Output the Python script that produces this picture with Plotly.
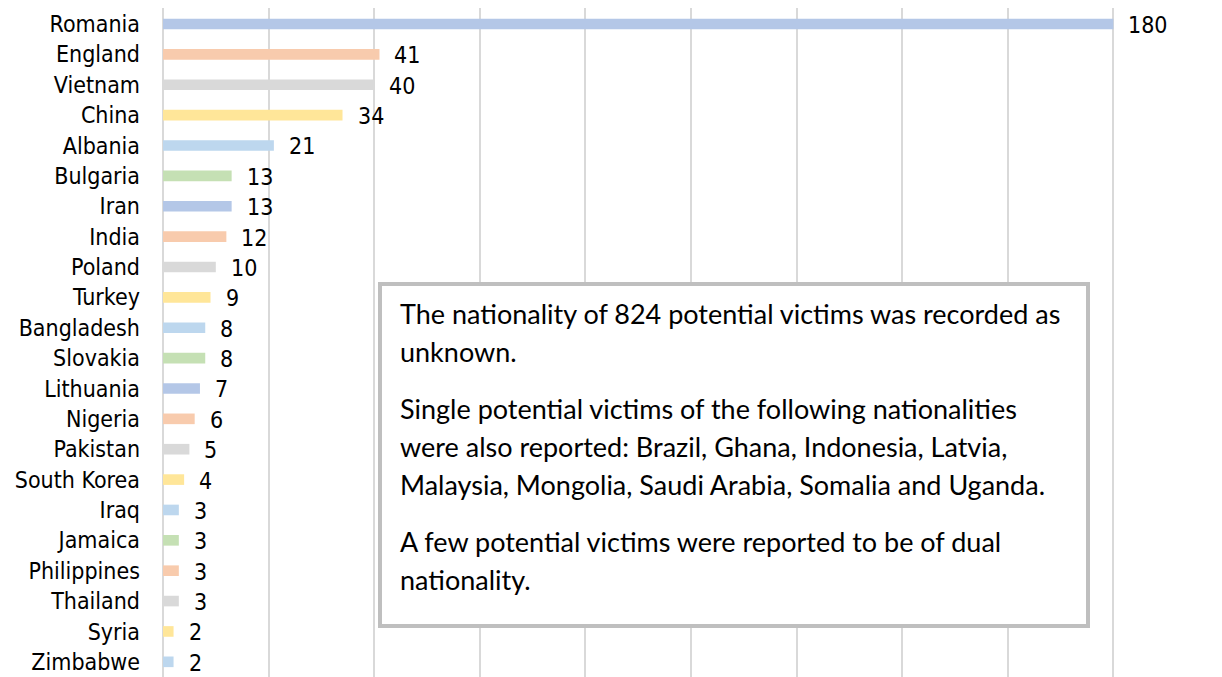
import plotly.graph_objects as go

countries = ["Romania", "England", "Vietnam", "China", "Albania", "Bulgaria", "Iran",
             "India", "Poland", "Turkey", "Bangladesh", "Slovakia", "Lithuania", "Nigeria",
             "Pakistan", "South Korea", "Iraq", "Jamaica", "Philippines", "Thailand",
             "Syria", "Zimbabwe"]
victims = [180, 41, 40, 34, 21, 13, 13, 12, 10, 9, 8, 8, 7, 6, 5, 4, 3, 3, 3, 3, 2, 2]

blue, orange, grey, yellow, light_blue, green = (
    "#b4c7e7", "#f8cbad", "#d9d9d9", "#ffe699", "#bdd7ee", "#c5e0b4")
bar_colours = [blue, orange, grey, yellow, light_blue, green,
               blue, orange, grey, yellow, light_blue, green,
               blue, orange, grey, yellow, light_blue, green,
               orange, grey, yellow, light_blue]

note_paragraphs = [
    ["The nationality of 824 potential victims was recorded as", "unknown."],
    ["Single potential victims of the following nationalities",
     "were also reported: Brazil, Ghana, Indonesia, Latvia,",
     "Malaysia, Mongolia, Saudi Arabia, Somalia and Uganda."],
    ["A few potential victims were reported to be of dual", "nationality."],
]

# the page body has an 8px margin, so the figure is sized to sit inside the window
OFF = 8
W, H = 1222 - OFF, 677 - OFF
M_L, M_R, M_T, M_B = 155, 3, 0, 0
label_font = dict(family="DejaVu Sans Condensed, DejaVu Sans", size=23, color="#000000")
note_font = dict(family="Lato", size=27, color="#000000")


def px_x(x):
    return (x - OFF - M_L) / (W - M_L - M_R)


def px_y(y):
    return (OFF + H - M_B - y) / (H - M_T - M_B)


fig = go.Figure(
    go.Bar(
        x=victims,
        y=countries,
        orientation="h",
        width=0.35,
        marker=dict(color=bar_colours, line=dict(width=0)),
        hoverinfo="skip",
    )
)

# value labels just to the right of each bar
for c, v in zip(countries, victims):
    fig.add_annotation(x=v, y=c, xref="x", yref="y", text=str(v), showarrow=False,
                       xanchor="left", yanchor="middle", xshift=13, yshift=-1,
                       font=label_font)

# note box
fig.add_shape(type="rect", xref="paper", yref="paper",
              x0=px_x(380), x1=px_x(1088), y0=px_y(284), y1=px_y(626),
              line=dict(color="#bfbfbf", width=4), fillcolor="#ffffff", layer="above")

baseline = 322
for para in note_paragraphs:
    for line in para:
        fig.add_annotation(x=px_x(398), y=px_y(baseline - 9), xref="paper", yref="paper",
                           text=line, showarrow=False, xanchor="left", yanchor="middle",
                           font=note_font)
        baseline += 38
    baseline += 19

fig.update_layout(
    width=W, height=H,
    margin=dict(l=M_L, r=M_R, t=M_T, b=M_B),
    paper_bgcolor="#ffffff",
    plot_bgcolor="#ffffff",
    showlegend=False,
    xaxis=dict(range=[0, 200], dtick=20, showticklabels=False, showgrid=True,
               gridcolor="#d9d9d9", gridwidth=2, zeroline=True, zerolinecolor="#d9d9d9",
               zerolinewidth=2, showline=False, fixedrange=True),
    yaxis=dict(autorange="reversed", showgrid=False, zeroline=False, showline=False,
               ticks="", tickfont=label_font, ticklabelstandoff=22, fixedrange=True),
)

fig.write_html("out.html")
